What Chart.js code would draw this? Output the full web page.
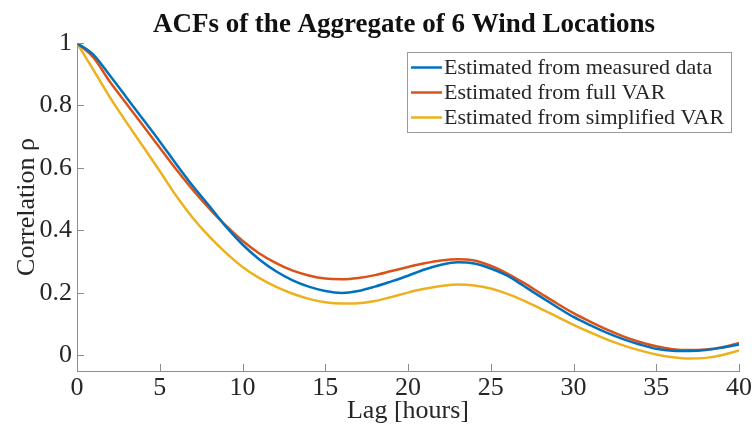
<!DOCTYPE html>
<html>
<head>
<meta charset="utf-8">
<script src="https://cdn.jsdelivr.net/npm/chart.js@4.4.0/dist/chart.umd.min.js"></script>
<style>
  html, body { margin: 0; padding: 0; background: #fff; }
  #wrap { width: 754px; height: 435px; }
</style>
</head>
<body>
<div id="wrap"><canvas id="acf"></canvas></div>
<script>
// lag in hours
const lags = [0, 1, 2, 3, 4, 5, 6, 7, 8, 9, 10, 11, 12, 13, 14, 15, 16, 17, 18, 19, 20,
              21, 22, 23, 24, 25, 26, 27, 28, 29, 30, 31, 32, 33, 34, 35, 36, 37, 38, 39, 40];

const measured = [1.000, 0.962, 0.895, 0.825, 0.755, 0.685, 0.612, 0.542, 0.478, 0.412, 0.355,
                  0.308, 0.270, 0.241, 0.220, 0.206, 0.200, 0.206, 0.220, 0.237, 0.255,
                  0.275, 0.290, 0.298, 0.294, 0.278, 0.255, 0.222, 0.188, 0.155, 0.123,
                  0.097, 0.073, 0.052, 0.035, 0.021, 0.015, 0.014, 0.017, 0.025, 0.035];

const fullVar = [1.000, 0.953, 0.875, 0.805, 0.735, 0.665, 0.595, 0.530, 0.470, 0.415, 0.367,
                 0.327, 0.296, 0.272, 0.256, 0.246, 0.244, 0.248, 0.257, 0.270, 0.283,
                 0.295, 0.304, 0.308, 0.304, 0.287, 0.262, 0.232, 0.199, 0.166, 0.135,
                 0.108, 0.083, 0.061, 0.043, 0.029, 0.020, 0.017, 0.019, 0.026, 0.040];

const simplifiedVar = [1.000, 0.913, 0.825, 0.745, 0.668, 0.590, 0.510, 0.440, 0.380, 0.328, 0.283,
                       0.248, 0.220, 0.198, 0.181, 0.170, 0.166, 0.167, 0.174, 0.187, 0.201,
                       0.213, 0.222, 0.227, 0.224, 0.214, 0.197, 0.175, 0.150, 0.124, 0.098,
                       0.074, 0.051, 0.032, 0.016, 0.003, -0.006, -0.010, -0.008, 0.001, 0.016];

const xTicks = [0, 5, 10, 15, 20, 25, 30, 35, 40];
const yTicks = [0, 0.2, 0.4, 0.6, 0.8, 1];

const chartTitle = 'ACFs of the Aggregate of 6 Wind Locations';
const seriesNames = ['Estimated from measured data', 'Estimated from full VAR', 'Estimated from simplified VAR'];
const seriesColors = ['#0072BD', '#D95319', '#EDB120'];

const serif = '"Liberation Serif", "Times New Roman", serif';
const axisGray = '#8c8c8c';
const textColor = '#262626';

function toPoints(values) {
    return lags.map((lag, i) => ({ x: lag, y: values[i] }));
}

// inward tick marks like matlab
const innerTicks = {
    id: 'innerTicks',
    afterDatasetsDraw(chart) {
        const ctx = chart.ctx;
        const area = chart.chartArea;
        const xs = chart.scales.x, ys = chart.scales.y;
        ctx.save();
        ctx.strokeStyle = axisGray;
        ctx.lineWidth = 1;
        ctx.beginPath();
        xTicks.forEach(v => {
            const px = Math.round(xs.getPixelForValue(v)) + 0.5;
            ctx.moveTo(px, area.bottom);
            ctx.lineTo(px, area.bottom - 7);
        });
        yTicks.forEach(v => {
            const py = Math.round(ys.getPixelForValue(v)) + 0.5;
            ctx.moveTo(area.left, py);
            ctx.lineTo(area.left + 7, py);
        });
        ctx.stroke();
        ctx.restore();
    }
};

// title centred over the axes, not the whole canvas
const axesTitle = {
    id: 'axesTitle',
    afterDraw(chart) {
        const ctx = chart.ctx;
        const area = chart.chartArea;
        ctx.save();
        ctx.font = 'bold 27px ' + serif;
        ctx.fillStyle = '#111';
        ctx.textAlign = 'center';
        ctx.textBaseline = 'alphabetic';
        ctx.fillText(chartTitle, (area.left + area.right) / 2 - 4, 32);
        ctx.restore();
    }
};

// legend box in the top right of the axes
const boxLegend = {
    id: 'boxLegend',
    afterDraw(chart) {
        const ctx = chart.ctx;
        const left = 407, top = 52, w = 324, h = 80;
        ctx.save();
        ctx.fillStyle = '#fff';
        ctx.fillRect(left, top, w, h);
        ctx.strokeStyle = '#9a9a9a';
        ctx.lineWidth = 1;
        ctx.strokeRect(left + 0.5, top + 0.5, w, h);
        ctx.font = '22px ' + serif;
        ctx.textBaseline = 'middle';
        chart.data.datasets.forEach((ds, i) => {
            const y = top + 15.5 + i * 25;
            ctx.strokeStyle = ds.borderColor;
            ctx.lineWidth = 2.5;
            ctx.beginPath();
            ctx.moveTo(left + 4, y);
            ctx.lineTo(left + 35, y);
            ctx.stroke();
            ctx.fillStyle = textColor;
            ctx.fillText(ds.label, left + 37, y + 1);
        });
        ctx.restore();
    }
};

const ctx = document.getElementById('acf').getContext('2d');
const acfChart = new Chart(ctx, {
    type: 'line',
    data: {
        datasets: [measured, fullVar, simplifiedVar].map((vals, i) => ({
            label: seriesNames[i],
            data: toPoints(vals),
            borderColor: seriesColors[i],
            backgroundColor: seriesColors[i],
            borderWidth: 2.5,
            pointRadius: 0,
            cubicInterpolationMode: 'monotone',
            fill: false
        }))
    },
    options: {
        responsive: true,
        maintainAspectRatio: false,
        animation: false,
        layout: { padding: { top: 43, left: 0, right: 13, bottom: 0 } },
        plugins: {
            legend: { display: false },
            tooltip: { enabled: false },
            title: { display: false }
        },
        scales: {
            x: {
                type: 'linear',
                min: 0,
                max: 40,
                afterBuildTicks: s => { s.ticks = xTicks.map(v => ({ value: v })); },
                afterFit: s => { s.height = 64; },
                grid: { display: false, drawTicks: false },
                border: { color: axisGray, width: 1 },
                ticks: { color: textColor, padding: 2, font: { family: serif, size: 26 } },
                title: {
                    display: true,
                    text: 'Lag [hours]',
                    color: textColor,
                    padding: { top: 0, bottom: 8 },
                    font: { family: serif, size: 26 }
                }
            },
            y: {
                min: -0.05,
                max: 1,
                afterBuildTicks: s => { s.ticks = yTicks.map(v => ({ value: v })); },
                afterFit: s => { s.width = 77; },
                grid: { display: false, drawTicks: false },
                border: { color: axisGray, width: 1 },
                ticks: {
                    color: textColor,
                    padding: 5,
                    font: { family: serif, size: 26 },
                    callback: v => String(Math.round(v * 10) / 10)
                },
                title: {
                    display: true,
                    text: 'Correlation ρ',
                    color: textColor,
                    padding: { top: 12, bottom: 0 },
                    font: { family: serif, size: 26 }
                }
            }
        }
    },
    plugins: [innerTicks, axesTitle, boxLegend]
});
</script>
</body>
</html>
